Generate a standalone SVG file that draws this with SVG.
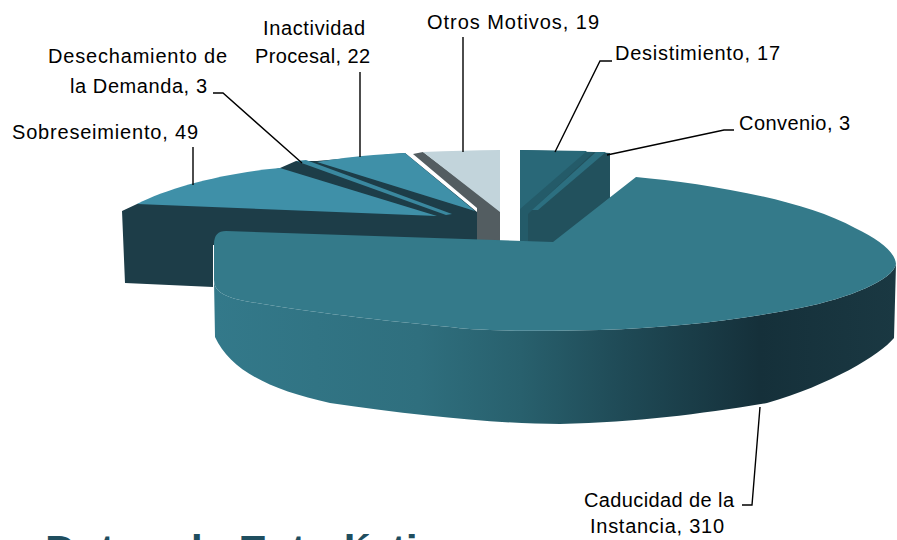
<svg xmlns="http://www.w3.org/2000/svg" width="897" height="540" viewBox="0 0 897 540">
<defs>
<linearGradient id="sideGrad" gradientUnits="userSpaceOnUse" x1="214" y1="0" x2="896" y2="0">
<stop offset="0" stop-color="#33798a"/>
<stop offset="0.3" stop-color="#2f6f7e"/>
<stop offset="0.45" stop-color="#28606d"/>
<stop offset="0.6" stop-color="#1f4a56"/>
<stop offset="0.8" stop-color="#15303a"/>
<stop offset="1" stop-color="#1a3842"/>
</linearGradient>
<style>
.lbl{font-family:"Liberation Sans",Arial,sans-serif;font-size:20px;fill:#000}
.lead{fill:none;stroke:#000;stroke-width:1.4}
.dark{fill:#1d3d48}
.lightTop{fill:#3f90a8}
.title{font-family:"Liberation Sans",Arial,sans-serif;font-weight:bold;font-size:43px;fill:#1f4e5f}
</style>
</defs>
<rect width="897" height="540" fill="#fff"/>

<g id="slice-sobreseimiento">
<path class="dark" d="M122,211 L137,204 L280,168 L296,161 L317,161 L405,153 L477,212 L477,245 L213,245 L213,287 L125,283 Z"/>
<path class="lightTop" d="M137,204 C170,187 225,173 280,168 L437,216 Z"/>
</g>

<g id="slice-desechamiento">
<path fill="#3a889f" d="M296,161 L306,160 L452,214 L446,215 Z"/>
</g>

<g id="slice-inactividad">
<path class="lightTop" d="M317,162 C345,157 380,154 405,153 L475,211 Z"/>
</g>

<g id="slice-otros">
<path fill="#535d61" d="M413,154 L423,152 L500,210 L500,242 L477,242 L477,208 Z"/>
<path fill="#c2d4db" d="M423,152 C450,151 475,150 500,150 L500,212 Z"/>
</g>

<g id="slice-desistimiento">
<path fill="#245b69" d="M520,150 L594,152 L594,160 L540,243 L520,243 Z"/>
<path fill="#296878" d="M520,150 L587,151 L520,209 Z"/>
</g>

<g id="slice-convenio">
<path fill="#22515d" d="M594,152 L610,153 L610,198 L556,244 L528,244 L528,214 Z"/>
<path fill="#2c6f80" d="M596,152 L606,152 L538,210 L532,210 Z"/>
</g>

<g id="slice-caducidad">
<path fill="url(#sideGrad)" d="M896,264 L894,338 C880,355 830,385 767,403 C700,414 640,422 560,424 C500,424 420,416 330,403 C270,390 230,370 215,337 L214,280 C214,290 222,296 240,300 C270,306 350,318 450,327 C470,330 520,332 600,330 C670,328 740,320 800,308 C850,298 893,280 896,264 Z"/>
<path fill="#347a8a" d="M553,242 L636,177 C700,183 800,198 855,228 C880,240 895,252 896,264 C893,280 850,298 800,308 C740,320 670,328 600,330 C520,332 470,330 450,327 C350,318 270,306 240,300 C222,296 214,290 214,280 L214,244 Q214,231 226,231 Z"/>
</g>

<g id="connectors">
<path class="lead" d="M193,147 L193,185"/>
<path class="lead" d="M213,93 L223,93 L302,163"/>
<path class="lead" d="M360,72 L360,157"/>
<path class="lead" d="M463,37 L463,152"/>
<path class="lead" d="M612,61 L600,61 L555,152"/>
<path class="lead" d="M734,130 L724,130 L607,155"/>
<path class="lead" d="M742,505 L752,505 L760,407"/>
</g>

<g id="labels">
<text class="lbl" x="12" y="139" textLength="186" lengthAdjust="spacing">Sobreseimiento, 49</text>
<text class="lbl" x="48" y="63" textLength="179" lengthAdjust="spacing">Desechamiento de</text>
<text class="lbl" x="70" y="93" textLength="137" lengthAdjust="spacing">la Demanda, 3</text>
<text class="lbl" x="263" y="35" textLength="102" lengthAdjust="spacing">Inactividad</text>
<text class="lbl" x="255" y="63" textLength="115" lengthAdjust="spacing">Procesal, 22</text>
<text class="lbl" x="427" y="29" textLength="172" lengthAdjust="spacing">Otros Motivos, 19</text>
<text class="lbl" x="615" y="60" textLength="165" lengthAdjust="spacing">Desistimiento, 17</text>
<text class="lbl" x="739" y="130" textLength="111" lengthAdjust="spacing">Convenio, 3</text>
<text class="lbl" x="584" y="507" textLength="150" lengthAdjust="spacing">Caducidad de la</text>
<text class="lbl" x="590" y="533" textLength="134" lengthAdjust="spacing">Instancia, 310</text>
</g>

<text class="title" x="45" y="565">Datos de Estadística</text>
</svg>
